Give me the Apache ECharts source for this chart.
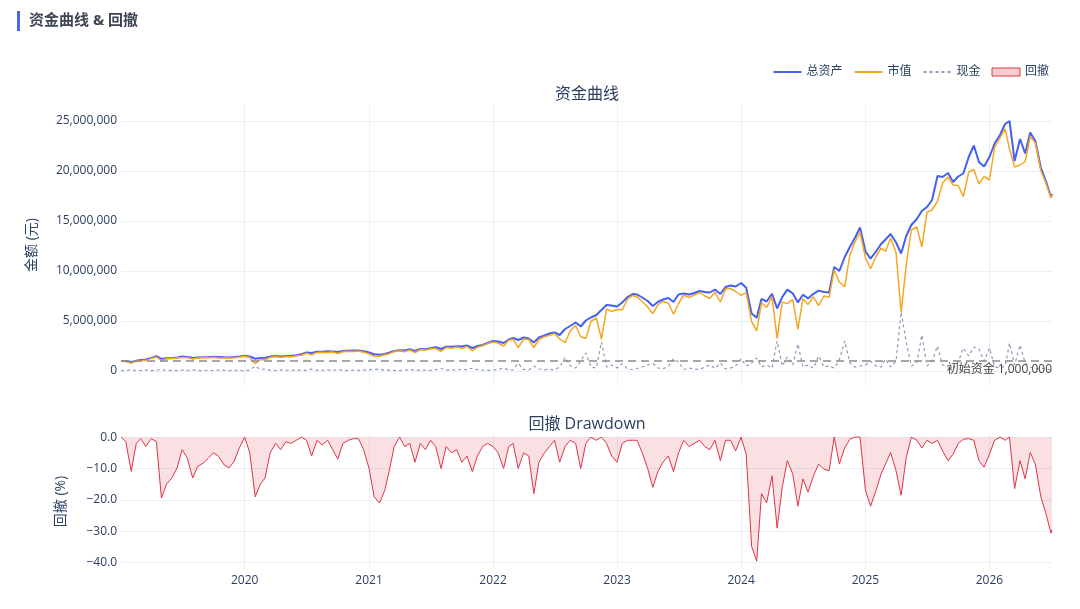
<!DOCTYPE html>
<html>
<head>
<meta charset="utf-8">
<title>资金曲线 & 回撤</title>
<script src="https://cdn.jsdelivr.net/npm/echarts@6/dist/echarts.min.js"></script>
<style>
  html, body { margin: 0; padding: 0; background: #fff; }
  #chart { width: 1080px; height: 609px; }
</style>
</head>
<body>
<div id="chart"></div>
<script>
// 半月采样日期
const dates = [
  '2019-01-02','2019-01-16','2019-02-01','2019-02-16','2019-03-01','2019-03-16','2019-04-01','2019-04-16','2019-05-01','2019-05-16','2019-06-01','2019-06-16',
  '2019-07-01','2019-07-16','2019-08-01','2019-08-16','2019-09-01','2019-09-16','2019-10-01','2019-10-16','2019-11-01','2019-11-16','2019-12-01','2019-12-16',
  '2020-01-01','2020-01-16','2020-02-01','2020-02-16','2020-03-01','2020-03-16','2020-04-01','2020-04-16','2020-05-01','2020-05-16','2020-06-01','2020-06-16',
  '2020-07-01','2020-07-16','2020-08-01','2020-08-16','2020-09-01','2020-09-16','2020-10-01','2020-10-16','2020-11-01','2020-11-16','2020-12-01','2020-12-16',
  '2021-01-01','2021-01-16','2021-02-01','2021-02-16','2021-03-01','2021-03-16','2021-04-01','2021-04-16','2021-05-01','2021-05-16','2021-06-01','2021-06-16',
  '2021-07-01','2021-07-16','2021-08-01','2021-08-16','2021-09-01','2021-09-16','2021-10-01','2021-10-16','2021-11-01','2021-11-16','2021-12-01','2021-12-16',
  '2022-01-01','2022-01-16','2022-02-01','2022-02-16','2022-03-01','2022-03-16','2022-04-01','2022-04-16','2022-05-01','2022-05-16','2022-06-01','2022-06-16',
  '2022-07-01','2022-07-16','2022-08-01','2022-08-16','2022-09-01','2022-09-16','2022-10-01','2022-10-16','2022-11-01','2022-11-16','2022-12-01','2022-12-16',
  '2023-01-01','2023-01-16','2023-02-01','2023-02-16','2023-03-01','2023-03-16','2023-04-01','2023-04-16','2023-05-01','2023-05-16','2023-06-01','2023-06-16',
  '2023-07-01','2023-07-16','2023-08-01','2023-08-16','2023-09-01','2023-09-16','2023-10-01','2023-10-16','2023-11-01','2023-11-16','2023-12-01','2023-12-16',
  '2024-01-01','2024-01-16','2024-02-01','2024-02-16','2024-03-01','2024-03-16','2024-04-01','2024-04-16','2024-05-01','2024-05-16','2024-06-01','2024-06-16',
  '2024-07-01','2024-07-16','2024-08-01','2024-08-16','2024-09-01','2024-09-16','2024-10-01','2024-10-16','2024-11-01','2024-11-16','2024-12-01','2024-12-16',
  '2025-01-01','2025-01-16','2025-02-01','2025-02-16','2025-03-01','2025-03-16','2025-04-01','2025-04-16','2025-05-01','2025-05-16','2025-06-01','2025-06-16',
  '2025-07-01','2025-07-16','2025-08-01','2025-08-16','2025-09-01','2025-09-16','2025-10-01','2025-10-16','2025-11-01','2025-11-16','2025-12-01','2025-12-16',
  '2026-01-01','2026-01-16','2026-02-01','2026-02-16','2026-03-01','2026-03-16','2026-04-01','2026-04-16','2026-05-01','2026-05-16','2026-06-01','2026-06-16',
  '2026-07-01','2026-07-04'
];

// 单位：百万元
const totalM = [
  1.00,0.99,0.89,1.02,1.10,1.16,1.30,1.48,1.21,1.28,1.31,1.36,1.44,1.40,1.31,1.36,1.38,1.40,1.43,1.41,1.37,1.35,1.39,1.45,
  1.52,1.45,1.23,1.30,1.32,1.44,1.49,1.46,1.50,1.52,1.58,1.68,1.85,1.80,1.93,1.92,1.97,1.96,1.90,2.00,2.02,2.04,2.05,1.97,
  1.85,1.67,1.63,1.71,1.83,2.00,2.08,2.05,2.17,2.00,2.20,2.18,2.28,2.38,2.20,2.43,2.42,2.47,2.45,2.55,2.30,2.50,2.60,2.80,
  3.00,2.95,2.80,3.15,3.30,3.10,3.35,3.25,2.85,3.35,3.55,3.75,3.85,3.60,4.20,4.50,4.85,4.45,5.05,5.35,5.60,6.10,6.60,6.55,
  6.45,6.85,7.40,7.70,7.65,7.35,7.00,6.50,6.90,7.15,7.30,6.90,7.65,7.75,7.65,7.80,8.00,7.90,7.85,8.15,7.70,8.40,8.55,8.45,
  8.80,8.33,5.74,5.32,7.22,6.95,7.72,6.25,7.39,8.14,7.77,6.86,7.63,7.26,7.72,8.04,7.90,7.86,10.40,10.00,11.40,12.40,13.30,14.35,
  11.95,11.23,11.95,12.70,13.15,13.70,12.85,11.75,13.50,14.60,15.20,16.00,16.40,17.10,19.50,19.40,19.80,18.90,19.45,19.75,21.40,22.55,20.90,20.45,
  21.40,22.75,23.60,24.70,25.00,21.00,23.20,21.75,23.85,23.00,20.35,19.00,17.40,17.70
];

const marketM = [
  0.98,0.94,0.77,0.99,1.04,1.06,1.26,1.40,1.06,1.23,1.24,1.32,1.35,1.35,1.19,1.30,1.34,1.32,1.38,1.31,1.31,1.31,1.32,1.40,
  1.48,1.35,0.73,1.15,1.12,1.36,1.44,1.34,1.44,1.43,1.53,1.58,1.79,1.62,1.86,1.87,1.85,1.90,1.75,1.92,1.97,1.94,1.99,1.88,
  1.73,1.47,1.48,1.63,1.73,1.94,2.03,1.93,2.10,1.85,2.14,2.09,2.23,2.26,1.95,2.35,2.28,2.41,2.25,2.45,2.02,2.38,2.52,2.74,
  2.90,2.80,2.50,3.07,3.18,2.33,3.20,3.15,2.35,3.15,3.43,3.57,3.75,3.20,2.83,4.00,4.55,3.45,3.25,4.95,5.30,3.20,6.20,5.95,
  6.15,6.12,7.20,7.55,7.40,6.95,6.40,5.73,6.60,6.95,6.80,5.67,6.75,7.60,7.35,7.60,7.85,7.50,7.25,7.90,6.90,8.20,8.25,7.95,
  7.57,7.83,4.94,4.02,6.82,6.35,7.42,3.25,6.89,6.74,7.17,4.16,7.23,6.66,7.42,6.54,7.50,7.36,10.10,8.90,8.40,11.60,12.90,13.85,
  11.35,10.23,11.45,12.30,11.95,13.30,11.85,5.85,10.60,14.10,14.40,12.40,15.90,16.10,17.00,18.80,19.40,18.60,18.55,17.45,19.90,20.15,18.70,19.45,
  19.10,22.35,23.30,24.20,22.20,20.40,20.60,20.95,23.45,22.80,20.05,18.80,17.30,17.60
];

const cashM = [
  0.02,0.05,0.12,0.03,0.06,0.10,0.04,0.08,0.15,0.05,0.07,0.04,0.09,0.05,0.12,0.06,0.04,0.08,0.05,0.10,0.06,0.04,0.07,0.05,
  0.04,0.10,0.50,0.15,0.20,0.08,0.05,0.12,0.06,0.09,0.05,0.10,0.06,0.18,0.07,0.05,0.12,0.06,0.15,0.08,0.05,0.10,0.06,0.09,
  0.12,0.20,0.15,0.08,0.10,0.06,0.05,0.12,0.07,0.15,0.06,0.09,0.05,0.12,0.25,0.08,0.14,0.06,0.20,0.10,0.28,0.12,0.08,0.06,
  0.10,0.15,0.30,0.08,0.12,0.77,0.15,0.10,0.50,0.20,0.12,0.18,0.10,0.40,1.37,0.50,0.30,1.00,1.80,0.40,0.30,2.90,0.40,0.60,
  0.30,0.73,0.20,0.15,0.25,0.40,0.60,0.77,0.30,0.20,0.50,1.23,0.90,0.15,0.30,0.20,0.15,0.40,0.60,0.25,0.80,0.20,0.30,0.50,
  1.23,0.50,0.80,1.30,0.40,0.60,0.30,3.00,0.50,1.40,0.60,2.70,0.40,0.60,0.30,1.50,0.40,0.50,0.30,1.10,3.00,0.80,0.40,0.50,
  0.60,1.00,0.50,0.40,1.20,0.40,1.00,5.90,2.90,0.50,0.80,3.60,0.50,1.00,2.50,0.60,0.40,0.30,0.90,2.30,1.50,2.40,2.20,1.00,
  2.30,0.40,0.30,0.50,2.80,0.60,2.60,0.80,0.40,0.20,0.30,0.20,0.10,0.10
];

// 回撤 (%)
const drawdown = [
  0,-1.4,-10.9,-2.0,-0.5,-3.0,-0.5,-1.4,-19.4,-15,-13,-9.8,-4.0,-6.7,-13,-9.3,-8.3,-6.7,-5.0,-6.1,-8.8,-9.8,-7.7,-3.5,
  0,-5,-19,-15,-13,-5,-2,-4,-1.5,-2,-1,0,-1,-6,-1,-2.5,-1,-4,-7,-2,-1,-0.5,-0.5,-4,
  -10,-19,-21,-17,-11,-3,0,-3,-2,-8,-2,-4,-1,-3,-10,-3,-5,-4,-8,-6,-11,-6,-3,-2,
  -3,-5,-10,-3,-2,-10,-5,-6,-18,-8,-5,-3,-1,-8,-3,-1,-2,-10,-2,0,-1,0,-2,-6,
  -8,-2,-1,-1,-1,-5,-10,-16,-11,-8,-6,-11,-5,-1,-3,-2,-1,-3,-4,-1,-7.5,-1,-1,-4.4,
  0,-5.4,-34.8,-39.5,-18,-21,-12.3,-29,-16,-7.5,-11.7,-22,-13.3,-17.5,-12.3,-8.6,-10.2,-10.7,0,-8.6,-3.4,-0.7,0,0,
  -17,-22,-17,-11.7,-8.6,-4.9,-10.7,-18.5,-6.5,0,-1,-3.4,-1,-2,-1,-4.4,-7.5,-5.4,-2,-0.7,-0.5,-1,-7.5,-9.6,
  -5.4,-1,0,-1,0,-16.4,-7.5,-13.3,-4.9,-8.6,-19,-24.3,-30.6,-29.5
];

const initialCapital = 1000000;

const toYuan = arr => arr.map((v, i) => [dates[i], Math.round(v * 1e6)]);
const fmtThousands = v => Math.round(v).toString().replace(/\B(?=(\d{3})+(?!\d))/g, ',');

const FONT = '"Open Sans", "Noto Sans CJK SC", sans-serif';
const TEXT = '#2a3f5f';
const GRID = '#ebf0f8';

const chart = echarts.init(document.getElementById('chart'));

const xCommon = {
  type: 'time',
  min: dates[0],
  max: dates[dates.length - 1],
  splitNumber: 8,
  minInterval: 365 * 24 * 3600 * 1000,
  maxInterval: 366 * 24 * 3600 * 1000,
  axisLine: { show: false },
  axisTick: { show: false },
  splitLine: { show: true, showMinLine: false, showMaxLine: false, lineStyle: { color: GRID, width: 1 } },
}

const option = {
  animation: false,
  textStyle: { fontFamily: FONT },
  title: [
    { text: '资金曲线 & 回撤', left: 29, top: 13, padding: 0, textStyle: { fontSize: 15, fontWeight: 'bold', color: '#3d4555', fontFamily: FONT } },
    { text: '资金曲线', left: 587, top: 86, padding: 0, textAlign: 'center', textStyle: { fontSize: 16, fontWeight: 'normal', color: TEXT, fontFamily: FONT } },
    { text: '回撤 Drawdown', left: 587, top: 416, padding: 0, textAlign: 'center', textStyle: { fontSize: 16, fontWeight: 'normal', color: TEXT, fontFamily: FONT } },
  ],
  graphic: [
    { type: 'rect', left: 17, top: 11, shape: { width: 3, height: 20 }, style: { fill: '#4a67f0' } },
  ],
  legend: {
    right: 31,
    top: 66,
    padding: 0,
    itemWidth: 28,
    itemHeight: 8,
    itemGap: 11,
    itemStyle: { opacity: 0 },
    textStyle: { fontSize: 12, color: TEXT, fontFamily: FONT },
    data: [
      { name: '总资产' },
      { name: '市值' },
      { name: '现金' },
      { name: '回撤', icon: 'rect', itemStyle: { opacity: 1, color: 'rgba(220,53,69,0.25)', borderColor: '#dc3545', borderWidth: 1 } },
    ],
  },
  grid: [
    { left: 121, right: 28, top: 105, height: 280 },
    { left: 121, right: 28, top: 434, height: 135 },
  ],
  xAxis: [
    { ...xCommon, gridIndex: 0, axisLabel: { show: false } },
    {
      ...xCommon, gridIndex: 1,
      axisLabel: { show: true, formatter: '{yyyy}', color: TEXT, fontSize: 12, margin: 6, showMinLabel: false, showMaxLabel: false, fontFamily: FONT },
    },
  ],
  yAxis: [
    {
      type: 'value', gridIndex: 0, min: -1400000, max: 26600000,
      name: '金额 (元)', nameLocation: 'middle', nameGap: 82,
      nameTextStyle: { fontSize: 14, color: TEXT, fontFamily: FONT },
      axisLine: { show: false }, axisTick: { show: false },
      axisLabel: { formatter: fmtThousands, color: TEXT, fontSize: 12, margin: 4, showMinLabel: false, showMaxLabel: false, fontFamily: FONT },
      splitLine: { show: true, showMinLine: false, showMaxLine: false, lineStyle: { color: GRID } },
    },
    {
      type: 'value', gridIndex: 1, min: -42, max: 1,
      name: '回撤 (%)', nameLocation: 'middle', nameGap: 53,
      nameTextStyle: { fontSize: 14, color: TEXT, fontFamily: FONT },
      axisLine: { show: false }, axisTick: { show: false },
      axisLabel: {
        formatter: v => (v < 0 ? '\u2212' : '') + Math.abs(v).toFixed(1),
        color: TEXT, fontSize: 12, margin: 4, showMinLabel: false, showMaxLabel: false, fontFamily: FONT,
      },
      splitLine: { show: true, showMinLine: false, showMaxLine: false, lineStyle: { color: GRID } },
    },
  ],
  series: [
    {
      name: '总资产', type: 'line', xAxisIndex: 0, yAxisIndex: 0,
      data: toYuan(totalM), showSymbol: false, symbol: 'none',
      color: '#4361ee', lineStyle: { color: '#4361ee', width: 2 },
      markLine: {
        silent: true, symbol: ['none', 'none'],
        lineStyle: { color: '#8a8a8a', type: [8, 5], width: 1.5 },
        label: { position: 'insideEndBottom', formatter: '初始资金 1,000,000', color: '#444', fontSize: 12, distance: [0, 3], fontFamily: FONT },
        data: [{ yAxis: initialCapital }],
      },
    },
    {
      name: '市值', type: 'line', xAxisIndex: 0, yAxisIndex: 0,
      data: toYuan(marketM), showSymbol: false, symbol: 'none',
      color: '#f5a623', lineStyle: { color: '#f5a623', width: 1.5 },
    },
    {
      name: '现金', type: 'line', xAxisIndex: 0, yAxisIndex: 0,
      data: toYuan(cashM), showSymbol: false, symbol: 'none',
      color: '#8e9bb5', lineStyle: { color: '#8e9bb5', width: 1.2, type: [3, 3] },
    },
    {
      name: '回撤', type: 'line', xAxisIndex: 1, yAxisIndex: 1,
      data: drawdown.map((v, i) => [dates[i], v]), showSymbol: false, symbol: 'none',
      color: '#dc3545', lineStyle: { color: '#dc3545', width: 1 },
      areaStyle: { color: 'rgba(220,53,69,0.22)' },
    },
  ],
}

chart.setOption(option)
</script>
</body>
</html>
